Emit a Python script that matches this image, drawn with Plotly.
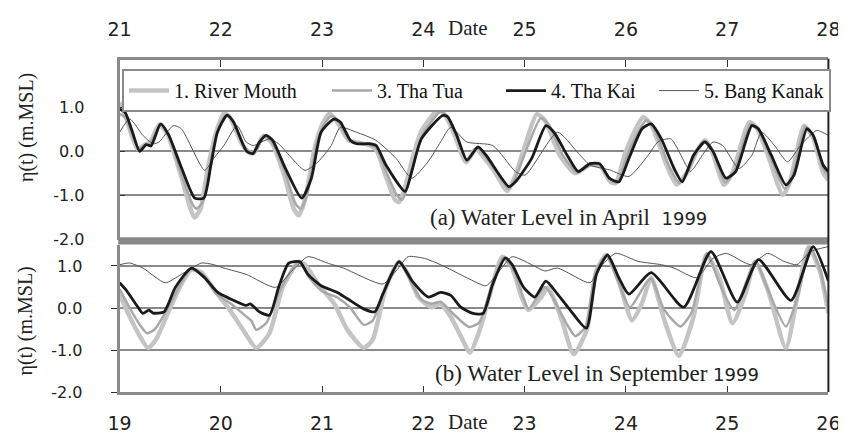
import plotly.graph_objects as go

W, H = 846, 441

# ---------------- data (April 1999, panel a) ----------------
a_mouth_t = [21.0, 21.06, 21.12, 21.18, 21.25, 21.3, 21.39, 21.47, 21.6, 21.7, 21.74, 21.8, 21.87, 21.95,
             22.03, 22.08, 22.2, 22.26, 22.32, 22.42, 22.5, 22.62, 22.72, 22.77, 22.83, 22.93, 23.0, 23.07,
             23.14, 23.26, 23.34, 23.45, 23.53, 23.62, 23.72, 23.76, 23.82, 23.9, 23.98, 24.15, 24.22, 24.32,
             24.42, 24.52, 24.6, 24.7, 24.83, 24.9, 25.0, 25.12, 25.2, 25.35, 25.5, 25.65, 25.75, 25.85, 25.9,
             26.0, 26.17, 26.25, 26.4, 26.5, 26.6, 26.7, 26.78, 26.85, 26.97, 27.05, 27.22, 27.3, 27.42,
             27.55, 27.62, 27.76, 27.85, 27.95, 28.0]
a_mouth_v = [1.1, 0.8, 0.35, 0.05, 0.15, 0.2, 0.6, 0.4, -0.5, -1.3, -1.5, -1.3, -0.4, 0.4,
             0.85, 0.8, 0.2, 0.0, -0.05, 0.35, 0.2, -0.5, -1.3, -1.45, -1.1, 0.1, 0.6, 0.85,
             0.7, 0.25, 0.2, 0.15, 0.05, -0.5, -1.1, -1.15, -0.8, -0.1, 0.45, 0.95, 0.8, 0.3,
             -0.25, 0.05, -0.15, -0.45, -0.9, -0.6, 0.1, 0.84, 0.7, -0.1, -0.5, -0.3, -0.35, -0.7, -0.72,
             0.0, 0.77, 0.6, -0.3, -0.75, -0.5, 0.0, 0.25, 0.0, -0.76, -0.5, 0.66, 0.5, -0.2,
             -0.99, -0.7, 0.58, 0.3, -0.5, -0.65]

a_tua_t = [21.0, 21.06, 21.12, 21.19, 21.26, 21.3, 21.4, 21.48, 21.6, 21.72, 21.76, 21.82, 21.89, 21.96,
           22.04, 22.1, 22.22, 22.28, 22.33, 22.43, 22.5, 22.63, 22.74, 22.79, 22.85, 22.95, 23.02, 23.09,
           23.15, 23.27, 23.34, 23.46, 23.53, 23.63, 23.74, 23.79, 23.85, 23.93, 24.0, 24.17, 24.23, 24.33,
           24.43, 24.53, 24.61, 24.72, 24.84, 24.91, 25.02, 25.16, 25.24, 25.38, 25.52, 25.65, 25.75, 25.86,
           25.92, 26.02, 26.2, 26.27, 26.43, 26.53, 26.63, 26.75, 26.8, 26.87, 26.98, 27.07, 27.23, 27.31,
           27.43, 27.57, 27.64, 27.77, 27.86, 27.95, 28.0]
a_tua_v = [0.85, 0.75, 0.4, 0.05, 0.15, 0.15, 0.6, 0.4, -0.45, -1.2, -1.3, -1.15, -0.35, 0.4,
           0.8, 0.75, 0.15, 0.0, -0.05, 0.35, 0.22, -0.45, -1.2, -1.3, -1.0, 0.2, 0.6, 0.8,
           0.7, 0.25, 0.2, 0.15, 0.08, -0.45, -1.0, -1.1, -0.75, -0.05, 0.4, 0.9, 0.8, 0.33,
           -0.22, 0.08, -0.12, -0.45, -0.85, -0.6, 0.05, 0.75, 0.6, -0.1, -0.48, -0.3, -0.32, -0.68,
           -0.7, -0.05, 0.7, 0.55, -0.35, -0.72, -0.35, 0.2, 0.22, -0.05, -0.7, -0.45, 0.62, 0.48,
           -0.15, -0.85, -0.6, 0.55, 0.32, -0.4, -0.55]

a_kai_t = [21.0, 21.054, 21.118, 21.198, 21.262, 21.31, 21.406, 21.486, 21.614, 21.742, 21.832, 21.902,
           21.966, 22.062, 22.126, 22.254, 22.318, 22.382, 22.446, 22.51, 22.638, 22.798, 22.894, 22.99,
           23.118, 23.18, 23.278, 23.342, 23.47, 23.534, 23.63, 23.82, 23.885, 23.98, 24.19, 24.24, 24.33,
           24.43, 24.54, 24.62, 24.845, 24.91, 25.07, 25.21, 25.29, 25.42, 25.53, 25.645, 25.74, 25.837,
           25.93, 26.03, 26.16, 26.25, 26.35, 26.476, 26.556, 26.668, 26.78, 26.86, 26.988, 27.084, 27.244,
           27.308, 27.436, 27.58, 27.66, 27.788, 27.85, 27.948, 28.0]
a_kai_v = [0.95, 0.88, 0.5, 0.0, 0.15, 0.12, 0.62, 0.36, -0.39, -1.06, -1.06, -0.31,
           0.43, 0.82, 0.66, 0.0, -0.05, 0.21, 0.36, 0.25, -0.39, -1.06, -0.61, 0.43,
           0.73, 0.66, 0.25, 0.17, 0.17, 0.13, -0.31, -0.91, -0.46, 0.28, 0.81, 0.78, 0.36,
           -0.2, 0.1, -0.09, -0.8, -0.69, -0.16, 0.58, 0.43, -0.09, -0.46, -0.28, -0.28, -0.61,
           -0.69, -0.16, 0.51, 0.62, 0.28, -0.39, -0.69, -0.09, 0.21, 0.0, -0.61, -0.46, 0.58,
           0.51, -0.09, -0.76, -0.54, 0.51, 0.36, -0.31, -0.46]

a_kanak_t = [21.0, 21.1, 21.23, 21.33, 21.39, 21.53, 21.61, 21.84, 21.93, 22.03, 22.16, 22.25, 22.32,
             22.48, 22.57, 22.83, 22.96, 23.09, 23.18, 23.34, 23.53, 23.73, 23.885, 24.045, 24.17, 24.27,
             24.43, 24.685, 24.91, 25.005, 25.325, 25.517, 25.645, 25.837, 26.03, 26.22, 26.316, 26.444,
             26.636, 26.668, 26.86, 26.956, 27.116, 27.244, 27.34, 27.468, 27.596, 27.724, 27.884, 28.0]
a_kanak_v = [0.43, 0.73, 0.36, 0.17, 0.21, 0.58, 0.51, -0.43, -0.16, 0.13, 0.58, 0.21, 0.13,
             0.28, 0.17, -0.43, -0.24, 0.13, 0.54, 0.43, 0.25, -0.16, -0.61, -0.24, 0.21, 0.54,
             0.21, 0.13, -0.46, -0.54, 0.43, -0.01, -0.31, -0.42, -0.57, -0.09, 0.21, 0.28,
             -0.46, -0.39, 0.21, 0.13, -0.39, -0.09, 0.43, 0.13, -0.24, 0.13, 0.47, 0.36]

# ---------------- data (September 1999, panel b) ----------------
b_mouth_t = [19.0, 19.1, 19.2, 19.28, 19.36, 19.49, 19.61, 19.71, 19.81, 19.93, 20.09, 20.22, 20.35,
             20.48, 20.61, 20.77, 20.83, 20.96, 21.12, 21.25, 21.41, 21.5, 21.63, 21.76, 21.85, 21.95,
             22.08, 22.17, 22.27, 22.37, 22.46, 22.557, 22.685, 22.78, 22.877, 22.97, 23.037, 23.165,
             23.229, 23.357, 23.485, 23.613, 23.709, 23.805, 23.93, 24.06, 24.156, 24.25, 24.38, 24.524,
             24.668, 24.796, 24.924, 25.052, 25.18, 25.276, 25.404, 25.58, 25.692, 25.804, 25.916, 26.0]
b_mouth_v = [0.33, -0.21, -0.67, -0.95, -0.75, -0.05, 0.57, 0.91, 0.84, 0.45, -0.05, -0.52, -0.95,
             -0.6, 0.49, 1.1, 1.03, 0.57, 0.1, -0.52, -0.95, -0.75, 0.49, 1.1, 0.8, 0.26,
             0.02, 0.1, -0.21, -0.67, -1.06, -0.52, 0.57, 1.22, 0.95, 0.26, -0.05, 0.26,
             0.49, -0.21, -1.1, -0.52, 0.88, 1.26, 0.64, -0.29, 0.1, 0.72, -0.29, -1.14,
             -0.21, 1.26, 0.72, -0.36, 0.33, 1.1, 0.41, -0.95, 0.26, 1.45, 0.88, -0.13]

b_tua_t = [19.0, 19.1, 19.2, 19.27, 19.35, 19.5, 19.7, 19.82, 19.95, 20.1, 20.25, 20.3, 20.35, 20.45,
           20.6, 20.77, 20.88, 21.0, 21.15, 21.28, 21.41, 21.5, 21.62, 21.76, 21.88, 21.98, 22.08, 22.17,
           22.3, 22.45, 22.55, 22.68, 22.79, 22.9, 22.98, 23.04, 23.2, 23.3, 23.42, 23.5, 23.6, 23.7,
           23.81, 23.92, 24.04, 24.2, 24.25, 24.38, 24.54, 24.65, 24.8, 24.93, 25.07, 25.28, 25.4, 25.58,
           25.7, 25.82, 25.92, 26.0]
b_tua_v = [0.45, 0.0, -0.4, -0.6, -0.5, 0.1, 0.93, 0.8, 0.35, 0.1, -0.2, -0.3, -0.52, -0.35,
           0.5, 1.1, 0.7, 0.4, 0.25, 0.0, -0.4, -0.3, 0.45, 1.1, 0.6, 0.2, 0.1, 0.15,
           -0.15, -0.45, -0.35, 0.55, 1.2, 0.85, 0.3, -0.02, 0.5, 0.15, -0.4, -0.67, -0.45, 0.85,
           1.25, 0.65, 0.02, 0.6, 0.7, -0.05, -0.44, -0.1, 1.3, 0.55, -0.05, 1.12, 0.45, -0.44,
           0.3, 1.45, 0.9, 0.0]

b_kai_t = [19.0, 19.07, 19.17, 19.23, 19.29, 19.33, 19.44, 19.55, 19.71, 19.84, 19.97, 20.09, 20.25,
           20.29, 20.38, 20.48, 20.57, 20.67, 20.78, 20.86, 20.99, 21.15, 21.25, 21.41, 21.52, 21.6,
           21.76, 21.89, 22.05, 22.17, 22.27, 22.37, 22.49, 22.59, 22.685, 22.81, 22.877, 22.99, 23.1,
           23.21, 23.325, 23.45, 23.61, 23.709, 23.82, 23.93, 24.03, 24.25, 24.57, 24.84, 25.1, 25.31,
           25.63, 25.85, 26.0]
b_kai_v = [0.6, 0.41, 0.06, -0.13, -0.05, -0.12, -0.09, 0.49, 0.95, 0.72, 0.37, 0.22, 0.06,
           0.1, -0.09, -0.17, 0.49, 1.07, 1.1, 0.8, 0.53, 0.37, 0.22, -0.02, -0.09, 0.33,
           1.1, 0.64, 0.26, 0.37, 0.3, 0.02, -0.13, -0.13, 0.57, 1.19, 1.03, 0.49, 0.26,
           0.64, 0.33, -0.05, -0.48, 0.8, 1.26, 0.72, 0.33, 0.84, 0.02, 1.34, 0.14, 1.15,
           0.18, 1.46, 0.64]

b_kanak_t = [19.0, 19.1, 19.23, 19.45, 19.61, 19.81, 19.93, 20.03, 20.25, 20.54, 20.7, 20.86, 21.05,
             21.21, 21.6, 21.73, 21.85, 22.01, 22.17, 22.43, 22.62, 22.75, 22.877, 23.07, 23.2, 23.325,
             23.645, 23.74, 23.9, 24.12, 24.35, 24.476, 24.7, 24.86, 24.99, 25.18, 25.24, 25.4, 25.56,
             25.69, 25.82, 26.0]
b_kanak_v = [1.03, 1.07, 0.95, 0.6, 0.8, 1.07, 1.03, 0.95, 0.8, 0.49, 0.88, 1.22, 1.07,
             0.95, 0.57, 0.88, 1.22, 1.18, 1.03, 0.72, 0.53, 0.88, 1.22, 1.03, 0.88, 0.95,
             0.6, 0.95, 1.3, 1.11, 1.03, 0.95, 0.72, 1.18, 1.3, 1.07, 1.03, 1.3, 1.11,
             1.03, 1.34, 1.46]

series_names = ["1. River Mouth", "3. Tha Tua", "4. Tha Kai", "5. Bang Kanak"]
top_ticks = [21, 22, 23, 24, 25, 26, 27, 28]
bottom_ticks = [19, 20, 21, 22, 23, 24, 25, 26]
y_ticks = [-2, -1, 0, 1]
y_ticktext = ["-2.0", "-1.0", "0.0", "1.0"]

# ---------------- styling ----------------
def px_x(p):
    return p / W

def px_y(p):
    return 1 - p / H

styles = {
    "1. River Mouth": dict(color="#c4c4c4", width=4.5, shape="spline", smoothing=0.6),
    "3. Tha Tua": dict(color="#a8a8a8", width=2.5, shape="spline", smoothing=0.6),
    "4. Tha Kai": dict(color="#1a1a1a", width=2.8, shape="spline", smoothing=0.6),
    "5. Bang Kanak": dict(color="#555555", width=1, shape="spline", smoothing=0.6),
}
rank = {"1. River Mouth": 1, "3. Tha Tua": 2, "4. Tha Kai": 3, "5. Bang Kanak": 4}
entry_w = {"1. River Mouth": 148, "3. Tha Tua": 119, "4. Tha Kai": 98, "5. Bang Kanak": 120}

fig = go.Figure()

panel_a = {
    "1. River Mouth": (a_mouth_t, a_mouth_v),
    "3. Tha Tua": (a_tua_t, a_tua_v),
    "5. Bang Kanak": (a_kanak_t, a_kanak_v),
    "4. Tha Kai": (a_kai_t, a_kai_v),
}
panel_b = {
    "1. River Mouth": (b_mouth_t, b_mouth_v),
    "3. Tha Tua": (b_tua_t, b_tua_v),
    "5. Bang Kanak": (b_kanak_t, b_kanak_v),
    "4. Tha Kai": (b_kai_t, b_kai_v),
}

for name, (t, v) in panel_a.items():
    fig.add_trace(go.Scatter(x=t, y=v, mode="lines", name=name, line=styles[name],
                             xaxis="x", yaxis="y", legendrank=rank[name], legendwidth=entry_w[name],
                             showlegend=True))
for name, (t, v) in panel_b.items():
    fig.add_trace(go.Scatter(x=t, y=v, mode="lines", name=name, line=styles[name],
                             xaxis="x2", yaxis="y2", showlegend=False))

xdom = [px_x(102.5), px_x(832)]
tick_font = dict(family="DejaVu Sans", size=19, color="#222")
ytick_font = dict(family="DejaVu Sans", size=16, color="#222")
serif = "Liberation Serif"

fig.update_layout(
    width=W, height=H,
    margin=dict(l=0, r=0, t=0, b=0),
    paper_bgcolor="white", plot_bgcolor="white",
    xaxis=dict(domain=xdom, anchor="y", range=[21, 28], side="top",
               tickmode="array", tickvals=top_ticks, ticktext=[str(d) for d in top_ticks],
               ticks="inside", ticklen=7, tickcolor="#333", tickwidth=1,
               showgrid=False, zeroline=False, showline=True, linecolor="#8a8a8a", linewidth=3,
               tickfont=tick_font, ticklabelstandoff=13),
    yaxis=dict(domain=[px_y(237), px_y(53)], anchor="x", range=[-2, 2.07],
               tickmode="array", tickvals=y_ticks, ticktext=y_ticktext,
               ticks="inside", ticklen=5, tickcolor="#333",
               showgrid=True, gridcolor="#8a8a8a", gridwidth=1.5, zeroline=False,
               showline=True, linecolor="#8a8a8a", linewidth=3,
               tickfont=ytick_font, ticklabelstandoff=29),
    xaxis2=dict(domain=xdom, anchor="y2", range=[19, 26], side="bottom",
                tickmode="array", tickvals=bottom_ticks, ticktext=[str(d) for d in bottom_ticks],
                ticks="inside", ticklen=6, tickcolor="#333", tickwidth=1,
                showgrid=False, zeroline=False, showline=True, linecolor="#8a8a8a", linewidth=3,
                tickfont=tick_font, ticklabelstandoff=12),
    yaxis2=dict(domain=[px_y(393), px_y(242)], anchor="x2", range=[-2, 1.51],
                tickmode="array", tickvals=y_ticks, ticktext=y_ticktext,
                ticks="outside", ticklen=6, tickcolor="#333",
                showgrid=True, gridcolor="#8a8a8a", gridwidth=1.5, zeroline=False,
                showline=True, linecolor="#8a8a8a", linewidth=3,
                tickfont=ytick_font, ticklabelstandoff=25),
    legend=dict(orientation="h", x=px_x(105), y=px_y(62.5), xanchor="left", yanchor="top",
                bgcolor="white", bordercolor="#8a8a8a", borderwidth=2,
                font=dict(family=serif, size=20, color="#111"),
                itemwidth=40, traceorder="normal"),
    shapes=[
        dict(type="rect", xref="paper", yref="paper", x0=px_x(101), x1=px_x(832),
             y0=px_y(242), y1=px_y(234.5), fillcolor="#8a8a8a", line=dict(width=0), layer="above"),
        dict(type="line", xref="paper", yref="paper", x0=px_x(832), x1=px_x(832),
             y0=px_y(393), y1=px_y(52), line=dict(color="#222", width=2), layer="above"),
    ],
    annotations=[
        dict(text="Date", xref="paper", yref="paper", x=px_x(461), y=px_y(20), showarrow=False,
             font=dict(family=serif, size=21, color="#222"), xanchor="center", yanchor="middle"),
        dict(text="Date", xref="paper", yref="paper", x=px_x(461), y=px_y(424), showarrow=False,
             font=dict(family=serif, size=21, color="#222"), xanchor="center", yanchor="middle"),
        dict(text="η(t) (m.MSL)", xref="paper", yref="paper", x=px_x(6), y=px_y(122), showarrow=False,
             textangle=-90, font=dict(family=serif, size=20, color="#222"),
             xanchor="center", yanchor="middle"),
        dict(text="η(t) (m.MSL)", xref="paper", yref="paper", x=px_x(6), y=px_y(320), showarrow=False,
             textangle=-90, font=dict(family=serif, size=20, color="#222"),
             xanchor="center", yanchor="middle"),
        dict(text="(a) Water Level in April  <span style=\"font-family:'DejaVu Sans';font-size:18px\">1999</span>",
             xref="paper", yref="paper", x=px_x(420), y=px_y(214), showarrow=False,
             font=dict(family=serif, size=23, color="#222"), xanchor="left", yanchor="middle"),
        dict(text="(b) Water Level in September <span style=\"font-family:'DejaVu Sans';font-size:18px\">1999</span>",
             xref="paper", yref="paper", x=px_x(425), y=px_y(374), showarrow=False,
             font=dict(family=serif, size=23, color="#222"), xanchor="left", yanchor="middle"),
    ],
)

fig.write_html("out.html")
